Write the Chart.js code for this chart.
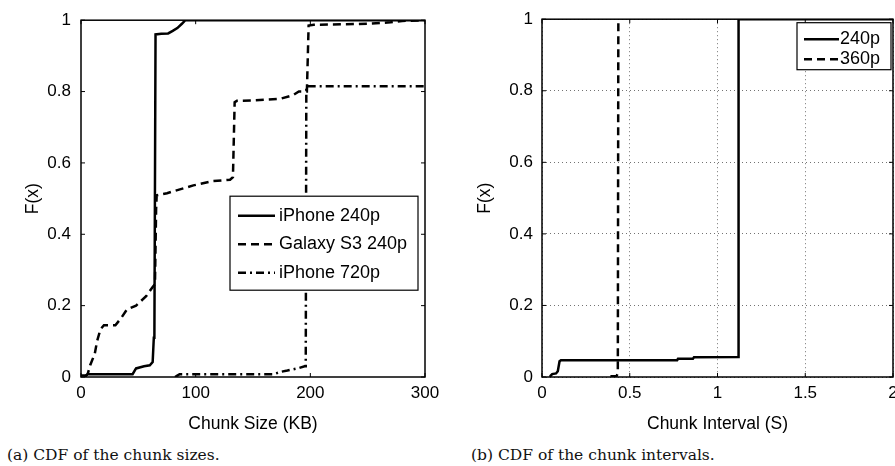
<!DOCTYPE html>
<html lang="en">
<head>
    <meta charset="UTF-8">
    <title>Chunk size and interval CDFs</title>
    <script src="https://cdn.jsdelivr.net/npm/chart.js"></script>
    <style>
        html, body {
            margin: 0;
            padding: 0;
            background: #fff;
            width: 895px;
            height: 466px;
            overflow: hidden;
        }

        .panel {
            position: absolute;
            top: 0;
        }

        .caption {
            position: absolute;
            top: 446px;
            font-family: "DejaVu Serif", serif;
            font-size: 15.5px;
            color: #111;
            white-space: nowrap;
        }
    </style>
</head>
<body>
    <canvas id="sizeChart" class="panel" width="450" height="440" style="left:0"></canvas>
    <canvas id="intervalChart" class="panel" width="460" height="440" style="left:450px"></canvas>
    <div class="caption" style="left:7px">(a) CDF of the chunk sizes.</div>
    <div class="caption" style="left:471px">(b) CDF of the chunk intervals.</div>

    <script>
        // shared y ticks
        const cdfTicks = [0, 0.2, 0.4, 0.6, 0.8, 1];

        // (a) chunk sizes in KB
        const sizeTicks = [0, 100, 200, 300];
        const iphone240X = [0, 4, 6, 45, 48, 55, 60, 62.5, 63.5, 64, 65, 70, 76, 80, 84, 88, 91, 300];
        const iphone240Y = [0.004, 0.004, 0.008, 0.008, 0.024, 0.03, 0.033, 0.042, 0.11, 0.11, 0.96, 0.962, 0.963, 0.97, 0.978, 0.99, 1.0, 1.0];
        const galaxyX = [3.5, 6, 8, 12, 14, 17, 20, 30, 35, 40, 48, 57, 62, 64.5, 65.5, 66, 75, 81, 98, 115, 130, 132.5, 134, 136, 150, 174, 185, 190, 197, 198.5, 203, 250, 270, 280, 300];
        const galaxyY = [0, 0.01, 0.033, 0.065, 0.10, 0.134, 0.145, 0.145, 0.165, 0.189, 0.2, 0.227, 0.25, 0.26, 0.47, 0.509, 0.515, 0.521, 0.537, 0.549, 0.553, 0.56, 0.77, 0.774, 0.775, 0.78, 0.79, 0.80, 0.80, 0.985, 0.987, 0.99, 0.994, 0.998, 1.0];
        const iphone720X = [82, 84, 86, 120, 168, 175, 180, 190, 195, 196, 196.5, 300];
        const iphone720Y = [0, 0.004, 0.008, 0.008, 0.008, 0.015, 0.018, 0.025, 0.03, 0.03, 0.815, 0.815];

        // (b) chunk intervals in seconds
        const intervalTicks = [0, 0.5, 1, 1.5, 2];
        const p240X = [0.045, 0.05, 0.058, 0.08, 0.09, 0.1, 0.108, 0.77, 0.775, 0.86, 0.866, 1.117, 1.12, 2];
        const p240Y = [0, 0.004, 0.008, 0.01, 0.016, 0.044, 0.047, 0.047, 0.051, 0.051, 0.055, 0.056, 1.0, 1.0];
        const p360X = [0.39, 0.425, 0.432, 0.435];
        const p360Y = [0.002, 0.003, 0.01, 1.0];

        const FONT = '"Liberation Sans", Arial, sans-serif';

        function points(xs, ys) {
            return xs.map((x, i) => ({ x: x, y: ys[i] }));
        }

        function series(label, xs, ys, dash) {
            return {
                label: label,
                data: points(xs, ys),
                borderColor: '#000',
                borderWidth: 2.5,
                borderDash: dash,
                pointRadius: 0,
                tension: 0,
                fill: false
            };
        }

        // box around the plot area plus matlab style inward ticks
        const frame = {
            id: 'frame',
            afterDatasetsDraw(chart) {
                const { ctx, chartArea: a, scales } = chart;
                ctx.save();
                ctx.strokeStyle = '#000';
                ctx.lineWidth = 1;
                ctx.beginPath();
                scales.x.ticks.forEach(t => {
                    const px = scales.x.getPixelForValue(t.value);
                    ctx.moveTo(px, a.bottom); ctx.lineTo(px, a.bottom - 4);
                    ctx.moveTo(px, a.top); ctx.lineTo(px, a.top + 4);
                });
                scales.y.ticks.forEach(t => {
                    const py = scales.y.getPixelForValue(t.value);
                    ctx.moveTo(a.left, py); ctx.lineTo(a.left + 4, py);
                    ctx.moveTo(a.right, py); ctx.lineTo(a.right - 4, py);
                });
                ctx.stroke();
                ctx.lineWidth = 1.5;
                ctx.strokeRect(a.left, a.top, a.right - a.left, a.bottom - a.top);
                ctx.restore();
            }
        };

        // legend inside the axes with a framed white box
        const boxLegend = {
            id: 'boxLegend',
            afterDraw(chart, args, o) {
                const { ctx, chartArea: a } = chart;
                const x = a.left + o.left;
                const y = a.top + o.top;
                ctx.save();
                ctx.fillStyle = '#fff';
                ctx.fillRect(x, y, o.width, o.height);
                ctx.lineWidth = 1.2;
                ctx.strokeStyle = '#000';
                ctx.strokeRect(x, y, o.width, o.height);
                ctx.font = o.font;
                ctx.textBaseline = 'middle';
                ctx.fillStyle = '#000';
                chart.data.datasets.forEach((ds, i) => {
                    const cy = y + o.firstRow + i * o.rowGap;
                    ctx.setLineDash(ds.borderDash || []);
                    ctx.lineWidth = ds.borderWidth;
                    ctx.beginPath();
                    ctx.moveTo(x + o.lineStart, cy);
                    ctx.lineTo(x + o.lineEnd, cy);
                    ctx.stroke();
                    ctx.setLineDash([]);
                    ctx.fillText(ds.label, x + o.textStart, cy);
                });
                ctx.restore();
            }
        };

        function axes(xMin, xMax, xTicks, xTitle, yWidth, yPad, yTitlePad, dotted) {
            const grid = dotted
                ? { display: true, drawTicks: false, color: 'rgba(0,0,0,0.55)', lineWidth: 1 }
                : { display: false, drawTicks: false };
            return {
                x: {
                    type: 'linear',
                    min: xMin,
                    max: xMax,
                    afterBuildTicks: s => { s.ticks = xTicks.map(v => ({ value: v })); },
                    afterFit: s => { s.height = 63; },
                    grid: grid,
                    border: { display: false, dash: [1, 3] },
                    ticks: {
                        color: '#000',
                        padding: 6,
                        maxRotation: 0,
                        font: { family: FONT, size: 17 },
                        callback: v => String(v)
                    },
                    title: {
                        display: true,
                        text: xTitle,
                        color: '#000',
                        font: { family: FONT, size: 17.5 },
                        padding: { top: 0, bottom: 5 }
                    }
                },
                y: {
                    type: 'linear',
                    min: 0,
                    max: 1,
                    afterBuildTicks: s => { s.ticks = cdfTicks.map(v => ({ value: v })); },
                    afterFit: s => { s.width = yWidth; },
                    grid: grid,
                    border: { display: false, dash: [1, 3] },
                    ticks: {
                        color: '#000',
                        padding: yPad,
                        font: { family: FONT, size: 17 },
                        callback: v => String(v)
                    },
                    title: {
                        display: true,
                        text: 'F(x)',
                        color: '#000',
                        font: { family: FONT, size: 17.5 },
                        padding: { top: yTitlePad, bottom: 0 }
                    }
                }
            };
        }

        Chart.defaults.animation = false;

        // Chunk size CDF
        new Chart(document.getElementById('sizeChart'), {
            type: 'line',
            data: {
                datasets: [
                    series('iPhone 240p', iphone240X, iphone240Y, []),
                    series('Galaxy S3 240p', galaxyX, galaxyY, [8, 5]),
                    series('iPhone 720p', iphone720X, iphone720Y, [8, 4, 2, 4])
                ]
            },
            options: {
                responsive: false,
                devicePixelRatio: 1,
                layout: { padding: { left: 0, top: 15, right: 25, bottom: 0 } },
                scales: axes(0, 300, sizeTicks, 'Chunk Size (KB)', 81, 10, 23, false),
                plugins: {
                    legend: { display: false },
                    tooltip: { enabled: false },
                    boxLegend: {
                        left: 149, top: 176, width: 188, height: 94,
                        firstRow: 19.5, rowGap: 28.5,
                        lineStart: 8, lineEnd: 45, textStart: 49,
                        font: '18px ' + FONT
                    }
                }
            },
            plugins: [frame, boxLegend]
        });

        // Chunk interval CDF
        new Chart(document.getElementById('intervalChart'), {
            type: 'line',
            data: {
                datasets: [
                    series('240p', p240X, p240Y, []),
                    series('360p', p360X, p360Y, [8, 5])
                ]
            },
            options: {
                responsive: false,
                devicePixelRatio: 1,
                layout: { padding: { left: 0, top: 15, right: 17, bottom: 0 } },
                scales: axes(0, 2, intervalTicks, 'Chunk Interval (S)', 92, 9, 25, true),
                plugins: {
                    legend: { display: false },
                    tooltip: { enabled: false },
                    boxLegend: {
                        left: 255, top: 3.5, width: 94, height: 47,
                        firstRow: 16.5, rowGap: 20,
                        lineStart: 7, lineEnd: 42, textStart: 43,
                        font: '18px ' + FONT
                    }
                }
            },
            plugins: [frame, boxLegend]
        });
    </script>
</body>
</html>
